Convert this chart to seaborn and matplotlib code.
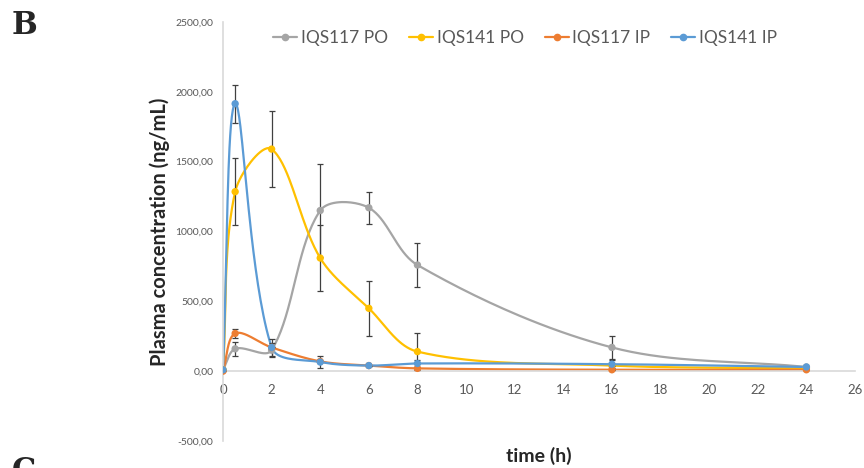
import numpy as np
import pandas as pd
import matplotlib
matplotlib.use('Agg')
import matplotlib.pyplot as plt
from matplotlib.lines import Line2D
import seaborn as sns

# sampling times (h)
time_h = [0, 0.5, 2, 4, 6, 8, 16, 24]

series_names = ['IQS117 PO', 'IQS141 PO', 'IQS117 IP', 'IQS141 IP']
iqs117_po = [10, 160, 150, 1150, 1170, 760, 170, 30]
iqs141_po = [10, 1285, 1590, 810, 450, 140, 40, 20]
iqs117_ip = [0, 270, 170, 70, 40, 20, 10, 10]
iqs141_ip = [10, 1915, 170, 65, 40, 55, 50, 30]

iqs117_po_err = [0, 50, 50, 330, 115, 160, 80, 0]
iqs141_po_err = [0, 240, 270, 235, 195, 130, 0, 0]
iqs117_ip_err = [0, 30, 0, 0, 0, 0, 0, 0]
iqs141_ip_err = [0, 135, 60, 45, 0, 25, 30, 0]

colors = ['#A5A5A5', '#FFC000', '#ED7D31', '#5B9BD5']

values = [iqs117_po, iqs141_po, iqs117_ip, iqs141_ip]
errors = [iqs117_po_err, iqs141_po_err, iqs117_ip_err, iqs141_ip_err]

df = pd.DataFrame({
    'time': np.tile(time_h, 4),
    'conc': np.concatenate(values),
    'err': np.concatenate(errors),
    'series': np.repeat(series_names, len(time_h)),
})

XMAX, YMIN, YMAX = 26, -500, 2500


def smooth(x, y, w=632, h=419, n=40):
    # Excel-like smoothed line: cubic Bezier, tangents weighted by segment length
    px = np.asarray(x, float) * w / XMAX
    py = (np.asarray(y, float) - YMIN) * h / (YMAX - YMIN)
    P = np.column_stack([px, py])
    N = len(P)
    d = np.linalg.norm(np.diff(P, axis=0), axis=1)
    out = []
    t = np.linspace(0, 1, n)[:, None]
    for i in range(N - 1):
        p0, p3 = P[i], P[i + 1]
        if i > 0:
            c1 = p0 + (p3 - P[i - 1]) * d[i] / (d[i - 1] + d[i]) / 3
        else:
            c1 = p0 + (p3 - p0) / 3
        if i + 2 < N:
            c2 = p3 - (P[i + 2] - p0) * d[i] / (d[i] + d[i + 1]) / 3
        else:
            c2 = p3 - (p3 - p0) / 3
        seg = (1 - t) ** 3 * p0 + 3 * (1 - t) ** 2 * t * c1 + 3 * (1 - t) * t ** 2 * c2 + t ** 3 * p3
        out.append(seg)
    S = np.vstack(out)
    return S[:, 0] * XMAX / w, S[:, 1] * (YMAX - YMIN) / h + YMIN


sns.set_style('white')
plt.rcParams['font.family'] = ['Lato', 'DejaVu Sans']

fig = plt.figure(figsize=(8.64, 4.68), dpi=100)
ax = fig.add_axes([223 / 864, 1 - 441 / 468, 632 / 864, 419 / 468])

for name, col, v, e in zip(series_names, colors, values, errors):
    sx, sy = smooth(time_h, v)
    ax.plot(sx, sy, color=col, lw=1.6, zorder=2)
    ax.errorbar(time_h, v, yerr=e, fmt='none', ecolor='#404040', elinewidth=0.9,
                capsize=2.5, capthick=0.9, zorder=3)

sns.scatterplot(data=df, x='time', y='conc', hue='series', palette=colors,
                hue_order=series_names, s=28, edgecolor='none', legend=False,
                ax=ax, zorder=4)

ax.set_xlim(0, XMAX)
ax.set_ylim(YMIN, YMAX)
ax.set_xticks(range(0, 27, 2))
ax.set_yticks(range(-500, 2501, 500))
ax.set_yticklabels([f'{v:.2f}'.replace('.', ',') for v in range(-500, 2501, 500)])
ax.tick_params(axis='x', length=0, pad=9, labelsize=9.5, labelcolor='#595959')
ax.tick_params(axis='y', length=0, pad=7, labelsize=7.5, labelcolor='#595959')

for s in ['top', 'right']:
    ax.spines[s].set_visible(False)
ax.spines['left'].set_position(('data', 0))
ax.spines['bottom'].set_position(('data', 0))
ax.spines['left'].set_color('#D9D9D9')
ax.spines['bottom'].set_color('#D9D9D9')
ax.spines['left'].set_linewidth(1.2)
ax.spines['bottom'].set_linewidth(1.2)
ax.set_xlabel('')
ax.set_ylabel('')

fig.text(160 / 864, 1 - 232 / 468, 'Plasma concentration (ng/mL)', rotation=90,
         ha='center', va='center', fontsize=14.5, fontweight='bold')
fig.text(539 / 864, 1 - 456 / 468, 'time (h)', ha='center', va='center',
         fontsize=14, fontweight='bold')

handles = [Line2D([0], [0], color=c, lw=1.6, marker='o', markersize=4.5)
           for c in colors]
leg = fig.legend(handles, series_names, loc='center', ncol=4,
                 bbox_to_anchor=(525 / 864, 1 - 38 / 468), frameon=False,
                 fontsize=12.5, handlelength=1.4, handletextpad=0.2,
                 columnspacing=1.2)
for t in leg.get_texts():
    t.set_color('#595959')

fig.text(12 / 864, 1 - 26 / 468, 'B', ha='left', va='center', fontsize=22,
         fontweight='bold', family='DejaVu Serif')
fig.text(12 / 864, 1 - 472 / 468, 'C', ha='left', va='center', fontsize=22,
         fontweight='bold', family='DejaVu Serif')

fig.savefig('out.png', dpi=100)
